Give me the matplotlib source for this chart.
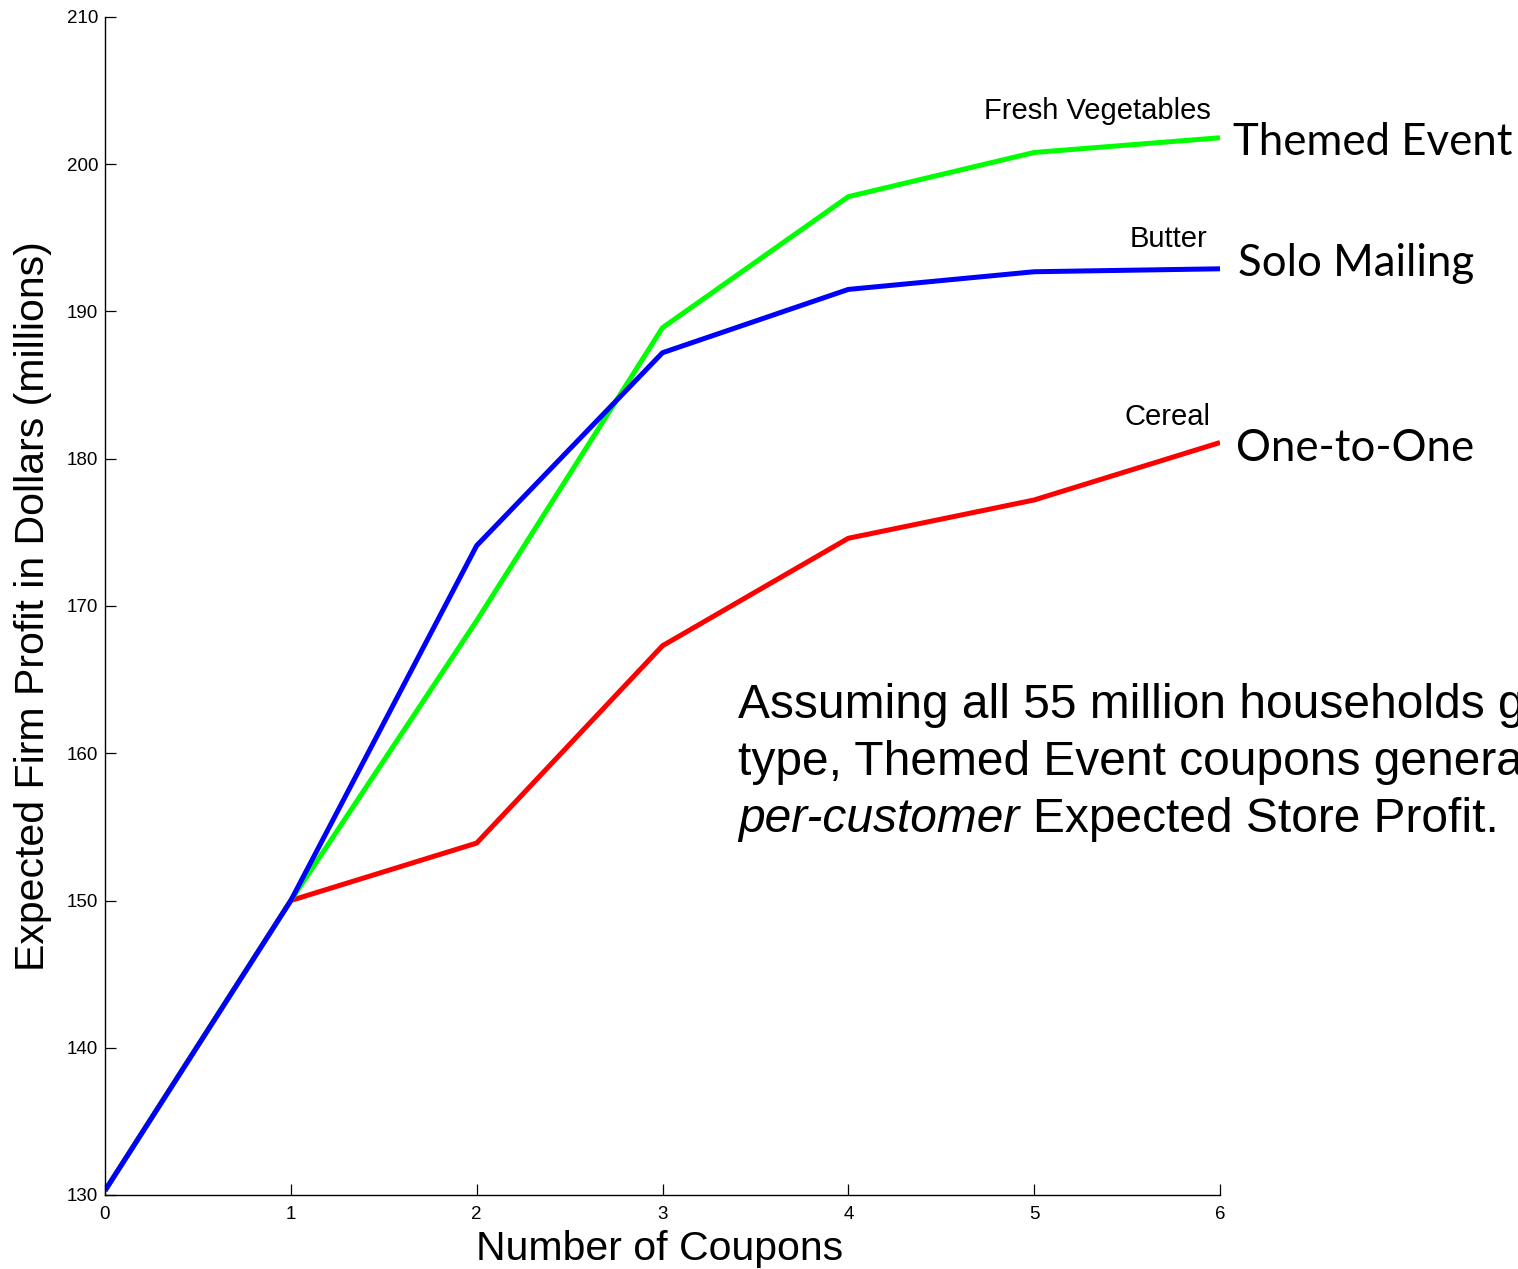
import matplotlib
matplotlib.use("Agg")
import matplotlib.pyplot as plt

# Expected firm profit (millions of dollars) by number of coupons
coupons = [0, 1, 2, 3, 4, 5, 6]
themed_event = [130.3, 150.0, 169.0, 188.9, 197.8, 200.8, 201.8]
solo_mailing = [130.3, 150.0, 174.1, 187.2, 191.5, 192.7, 192.9]
one_to_one = [130.3, 150.0, 153.9, 167.3, 174.6, 177.2, 181.1]

y_ticks = [130, 140, 150, 160, 170, 180, 190, 200, 210]
x_ticks = [0, 1, 2, 3, 4, 5, 6]

W, H = 1518, 1269
fig = plt.figure(figsize=(W / 100, H / 100), dpi=100)
ax = fig.add_axes([105 / W, 1 - 1195 / H, (1220 - 105) / W, (1195 - 17) / H])

sans = ["Liberation Sans", "DejaVu Sans"]
ax.plot(coupons, one_to_one, color="#ff0000", lw=3.6, solid_capstyle="butt")
ax.plot(coupons, themed_event, color="#00ff00", lw=3.6, solid_capstyle="butt")
ax.plot(coupons, solo_mailing, color="#0000ff", lw=3.6, solid_capstyle="butt")

ax.set_xlim(0, 6)
ax.set_ylim(130, 210)
ax.set_xticks(x_ticks)
ax.set_yticks(y_ticks)
ax.spines["top"].set_visible(False)
ax.spines["right"].set_visible(False)
for s in ("left", "bottom"):
    ax.spines[s].set_linewidth(1.0)
ax.tick_params(direction="in", length=8, width=0.9, labelsize=13.5)
ax.tick_params(axis="x", pad=8)
ax.tick_params(axis="y", pad=5)
for lab in ax.get_xticklabels() + ax.get_yticklabels():
    lab.set_family(sans)

def px(x, y):
    return x / W, 1 - y / H

fig.text(*px(33, 606), "Expected Firm Profit in Dollars (millions)", rotation=90,
         ha="center", va="center", fontsize=29.5, family=sans)
fig.text(*px(660, 1249), "Number of Coupons", ha="center", va="center",
         fontsize=29.5, family=sans)

# Product and strategy labels at the right end of each curve
small = dict(fontsize=21, family=sans, ha="right", va="baseline")
fig.text(*px(1211, 119), "Fresh Vegetables", **small)
fig.text(*px(1207, 247), "Butter", **small)
fig.text(*px(1211, 425), "Cereal", **small)

big = dict(fontsize=31.5, family=["Lato", "DejaVu Sans"], ha="left", va="baseline")
fig.text(*px(1233, 155), "Themed Event", **big)
fig.text(*px(1238, 276), "Solo Mailing", **big)
fig.text(*px(1236, 461), "One-to-One", **big)

# Commentary running off the right edge of the figure
note = dict(fontsize=34.5, family=sans, ha="left", va="baseline")
fig.text(*px(738, 718), "Assuming all 55 million households g", **note)
fig.text(*px(738, 775), "type, Themed Event coupons genera", **note)
fig.text(*px(738, 832), "per-customer", style="italic", **note)
fig.text(*px(1033, 832), "Expected Store Profit.", **note)

fig.savefig("out.png", dpi=100)
